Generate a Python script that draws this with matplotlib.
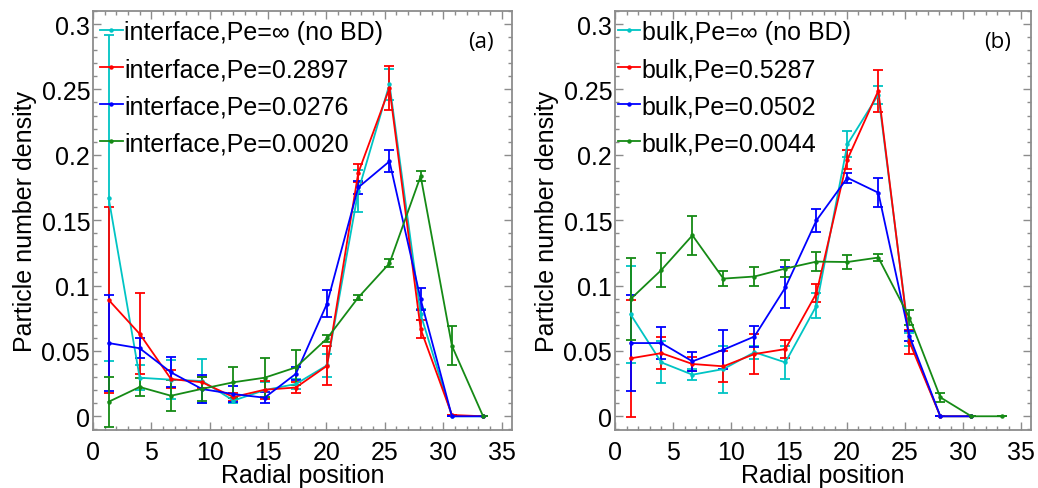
import matplotlib
matplotlib.use("Agg")
import matplotlib.pyplot as plt
from matplotlib.lines import Line2D
from matplotlib.ticker import MultipleLocator

plt.rcParams['font.family'] = ['Liberation Sans', 'DejaVu Sans']

# === data ===
r_pos = [1.34, 4.0, 6.68, 9.35, 12.03, 14.7, 17.38, 20.05, 22.72, 25.4, 28.07, 30.75, 33.42]

# (a) interface
int_inf = [0.167, 0.0295, 0.028, 0.027, 0.012, 0.020, 0.0247, 0.039, 0.172, 0.254, 0.078, 0.0, 0.0]
int_inf_err = [0.125, 0.0095, 0.015, 0.017, 0.002, 0.006, 0.004, 0.009, 0.016, 0.012, 0.004, 0.0, 0.0]
int_2897 = [0.089, 0.063, 0.0285, 0.026, 0.0147, 0.0203, 0.022, 0.0386, 0.186, 0.251, 0.0667, 0.001, 0.0]
int_2897_err = [0.071, 0.031, 0.007, 0.004, 0.003, 0.007, 0.004, 0.0148, 0.007, 0.017, 0.0066, 0.0, 0.0]
int_0276 = [0.056, 0.052, 0.0336, 0.0208, 0.017, 0.0142, 0.0325, 0.0862, 0.175, 0.195, 0.0895, 0.0, 0.0]
int_0276_err = [0.037, 0.0075, 0.0115, 0.011, 0.006, 0.004, 0.005, 0.0103, 0.005, 0.0085, 0.0085, 0.0, 0.0]
int_0020 = [0.0111, 0.0224, 0.0157, 0.021, 0.026, 0.0295, 0.0374, 0.0595, 0.0908, 0.117, 0.1837, 0.0539, 0.0]
int_0020_err = [0.019, 0.007, 0.012, 0.009, 0.012, 0.015, 0.0135, 0.0025, 0.002, 0.003, 0.004, 0.015, 0.0]

# (b) bulk
blk_inf = [0.078, 0.0412, 0.0318, 0.0361, 0.049, 0.0412, 0.0845, 0.208, 0.246, 0.059, 0.0, 0.0]
blk_inf_err = [0.037, 0.016, 0.004, 0.018, 0.005, 0.0125, 0.0095, 0.01, 0.007, 0.005, 0.0, 0.0]
blk_5287 = [0.0443, 0.0483, 0.040, 0.0382, 0.0476, 0.0514, 0.0941, 0.1964, 0.249, 0.057, 0.0, 0.0]
blk_5287_err = [0.045, 0.0124, 0.005, 0.012, 0.015, 0.007, 0.007, 0.007, 0.016, 0.009, 0.0, 0.0]
blk_0502 = [0.056, 0.056, 0.042, 0.0509, 0.061, 0.0985, 0.1498, 0.1824, 0.171, 0.0615, 0.0, 0.0]
blk_0502_err = [0.037, 0.0125, 0.0074, 0.015, 0.0083, 0.016, 0.009, 0.004, 0.011, 0.004, 0.0, 0.0]
blk_0044 = [0.0896, 0.1119, 0.1384, 0.1053, 0.1069, 0.113, 0.1183, 0.118, 0.1214, 0.0755, 0.0145, 0.0, 0.0]
blk_0044_err = [0.0316, 0.0128, 0.015, 0.0055, 0.0075, 0.0065, 0.0075, 0.005, 0.003, 0.0055, 0.0035, 0.0, 0.0]

ytick_vals = [0, 0.05, 0.1, 0.15, 0.2, 0.25, 0.3]
ytick_text = ["0", "0.05", "0.1", "0.15", "0.2", "0.25", "0.3"]

CYAN = "#00c4c4"
RED = "#ff0000"
BLUE = "#0000ff"
GREEN = "#158a15"
FRAME = "#8c8c8c"

fig = plt.figure(figsize=(10.38, 4.89), dpi=100)
ax_a = fig.add_axes([0.0896, 0.1186, 0.4037, 0.8569])
ax_b = fig.add_axes([0.5925, 0.1186, 0.4008, 0.8569])


def draw_series(ax, y, e, color, label):
    x = r_pos[:len(y)]
    ax.errorbar(x, y, yerr=e, color=color, lw=1.3, elinewidth=1.3,
                capsize=3.5, capthick=1.3, marker="o", markersize=2.2,
                label=label)


def style_axes(ax):
    ax.set_xlim(0, 35.9)
    ax.set_ylim(-0.0105, 0.31)
    ax.set_xticks([0, 5, 10, 15, 20, 25, 30, 35])
    ax.xaxis.set_minor_locator(MultipleLocator(1))
    ax.set_yticks(ytick_vals)
    ax.set_yticklabels(ytick_text)
    ax.yaxis.set_minor_locator(MultipleLocator(0.01))
    ax.tick_params(which="both", direction="in", top=True, right=True,
                   color=FRAME, labelsize=18)
    ax.tick_params(which="major", length=6, width=1)
    ax.tick_params(which="minor", length=3, width=1)
    ax.tick_params(axis="x", pad=7.5)
    ax.tick_params(axis="y", pad=2)
    for s in ax.spines.values():
        s.set_color(FRAME)
        s.set_linewidth(1.3)
    ax.set_xlabel("Radial position", fontsize=18, labelpad=-1)
    ax.set_ylabel("Particle number density", fontsize=18, labelpad=3)


# (a)
draw_series(ax_a, int_inf, int_inf_err, CYAN, "interface,Pe=\u221e (no BD)")
draw_series(ax_a, int_2897, int_2897_err, RED, "interface,Pe=0.2897")
draw_series(ax_a, int_0276, int_0276_err, BLUE, "interface,Pe=0.0276")
draw_series(ax_a, int_0020, int_0020_err, GREEN, "interface,Pe=0.0020")
style_axes(ax_a)
ax_a.text(0.926, 0.926, "(a)", transform=ax_a.transAxes, fontsize=16,
          family="Open Sans", ha="center", va="center")

# (b)
draw_series(ax_b, blk_inf, blk_inf_err, CYAN, "bulk,Pe=\u221e (no BD)")
draw_series(ax_b, blk_5287, blk_5287_err, RED, "bulk,Pe=0.5287")
draw_series(ax_b, blk_0502, blk_0502_err, BLUE, "bulk,Pe=0.0502")
draw_series(ax_b, blk_0044, blk_0044_err, GREEN, "bulk,Pe=0.0044")
style_axes(ax_b)
ax_b.text(0.92, 0.926, "(b)", transform=ax_b.transAxes, fontsize=16,
          family="Open Sans", ha="center", va="center")

# legends: plain line + dot handles
for ax, labels, x0 in [
    (ax_a, ["interface,Pe=\u221e (no BD)", "interface,Pe=0.2897",
            "interface,Pe=0.0276", "interface,Pe=0.0020"], 0.017),
    (ax_b, ["bulk,Pe=\u221e (no BD)", "bulk,Pe=0.5287",
            "bulk,Pe=0.0502", "bulk,Pe=0.0044"], 0.007),
]:
    handles = [Line2D([], [], color=c, lw=1.3, marker="o", markersize=2.2)
               for c in [CYAN, RED, BLUE, GREEN]]
    ax.legend(handles, labels, loc="upper left", bbox_to_anchor=(x0, 0.978),
              frameon=False, fontsize=18, handlelength=0.9, handletextpad=0.05,
              labelspacing=0.52, borderpad=0, borderaxespad=0)

fig.savefig("out.png", dpi=100)
